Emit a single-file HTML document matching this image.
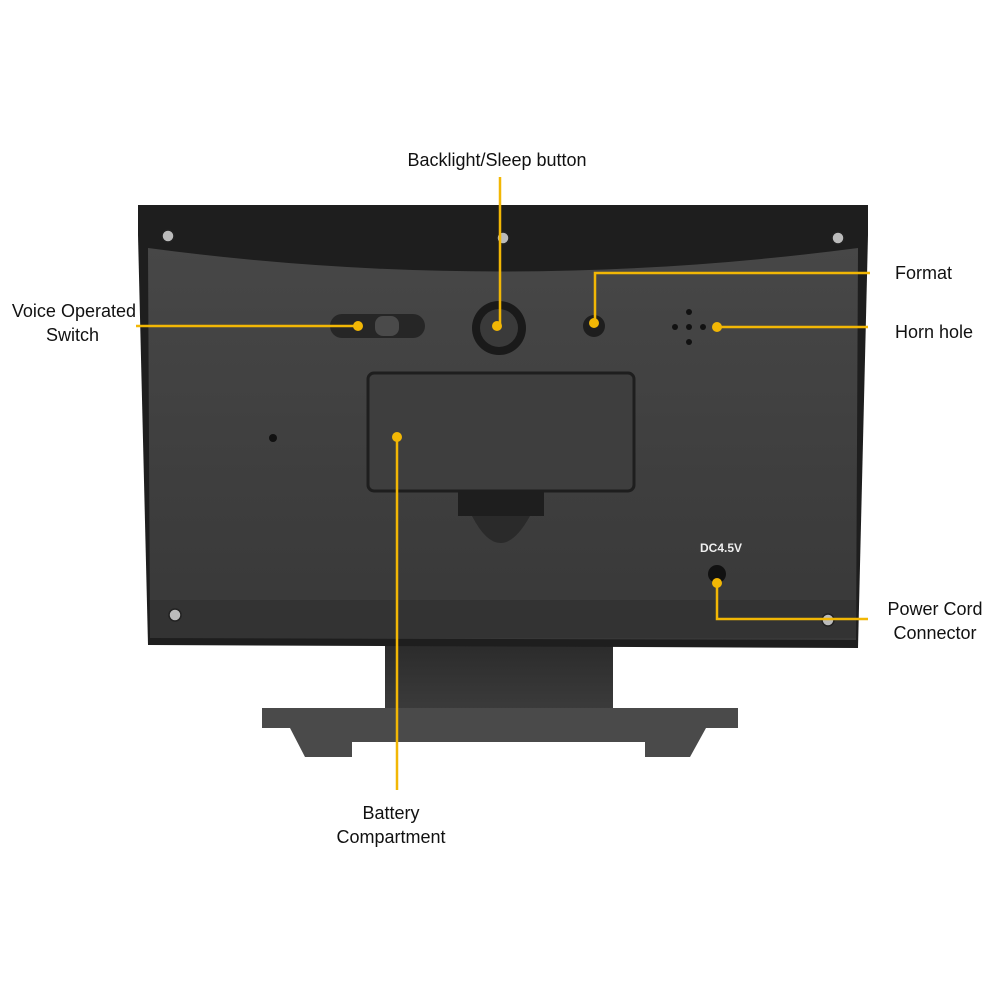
<!DOCTYPE html>
<html><head><meta charset="utf-8"><style>
html,body{margin:0;padding:0;background:#fff;}
svg{display:block}
text{font-family:"Liberation Sans",sans-serif;font-size:18px;fill:#111}
</style></head><body>
<svg width="1000" height="1000" viewBox="0 0 1000 1000">
<defs>
<linearGradient id="body" x1="0" y1="0" x2="0" y2="1">
<stop offset="0" stop-color="#474747"/><stop offset="1" stop-color="#383838"/>
</linearGradient>
<linearGradient id="stand" x1="0" y1="0" x2="0" y2="1">
<stop offset="0" stop-color="#2a2a2a"/><stop offset="1" stop-color="#3c3c3c"/>
</linearGradient>
</defs>
<!-- stand -->
<rect x="385" y="640" width="228" height="73" fill="url(#stand)"/>
<polygon points="262,708 738,708 738,728 706,728 690,757 645,757 645,742 352,742 352,757 305,757 290,728 262,728" fill="#4a4a4a"/>
<!-- device body -->
<path d="M138,205 L868,205 L868,235 L858,648 L148,645 L138,235 Z" fill="#1e1e1e"/>
<path d="M148,248 Q500,295 858,248 L856,640 L150,638 Z" fill="url(#body)"/>
<rect x="150" y="600" width="706" height="38" fill="#333"/>
<!-- screws -->
<g fill="#bbb" stroke="#222" stroke-width="1.5">
<circle cx="168" cy="236" r="6"/><circle cx="503" cy="238" r="6"/><circle cx="838" cy="238" r="6"/>
<circle cx="175" cy="615" r="6"/><circle cx="828" cy="620" r="6"/>
</g>
<!-- switch -->
<rect x="330" y="314" width="95" height="24" rx="12" fill="#262626"/>
<rect x="375" y="316" width="24" height="20" rx="8" fill="#4a4a4a"/>
<!-- button -->
<circle cx="499" cy="328" r="27" fill="#1a1a1a"/>
<circle cx="499" cy="328" r="19" fill="#3a3a3a"/>
<circle cx="594" cy="326" r="11" fill="#1e1e1e"/>
<!-- horn holes -->
<g fill="#111"><circle cx="689" cy="312" r="3"/><circle cx="689" cy="342" r="3"/><circle cx="675" cy="327" r="3"/><circle cx="703" cy="327" r="3"/><circle cx="689" cy="327" r="3"/></g>
<circle cx="273" cy="438" r="4" fill="#111"/>
<!-- battery -->
<rect x="368" y="373" width="266" height="118" rx="6" fill="#3e3e3e" stroke="#1e1e1e" stroke-width="3"/>
<rect x="458" y="491" width="86" height="25" fill="#1e1e1e"/>
<path d="M472,516 Q500,570 530,516 Z" fill="#2a2a2a"/>
<!-- DC -->
<text x="700" y="552" style="font-size:12px;font-weight:bold;fill:#eee">DC4.5V</text>
<circle cx="717" cy="574" r="9" fill="#111"/>
<!-- callouts -->
<g stroke="#f2b705" stroke-width="2.5" fill="none">
<line x1="500" y1="177" x2="500" y2="326"/>
<polyline points="870,273 595,273 595,323"/>
<line x1="717" y1="327" x2="868" y2="327"/>
<line x1="136" y1="326" x2="358" y2="326"/>
<line x1="397" y1="437" x2="397" y2="790"/>
<polyline points="717,583 717,619 868,619"/>
</g>
<g fill="#f2b705">
<circle cx="497" cy="326" r="5"/><circle cx="594" cy="323" r="5"/><circle cx="717" cy="327" r="5"/>
<circle cx="358" cy="326" r="5"/><circle cx="397" cy="437" r="5"/><circle cx="717" cy="583" r="5"/>
</g>
<text x="497" y="166" text-anchor="middle">Backlight/Sleep button</text>
<text x="895" y="279">Format</text>
<text x="895" y="338">Horn hole</text>
<text x="136" y="317" text-anchor="end">Voice Operated</text>
<text x="99" y="341" text-anchor="end">Switch</text>
<text x="935" y="615" text-anchor="middle">Power Cord</text>
<text x="935" y="639" text-anchor="middle">Connector</text>
<text x="391" y="819" text-anchor="middle">Battery</text>
<text x="391" y="843" text-anchor="middle">Compartment</text>
</svg>
</body></html>
